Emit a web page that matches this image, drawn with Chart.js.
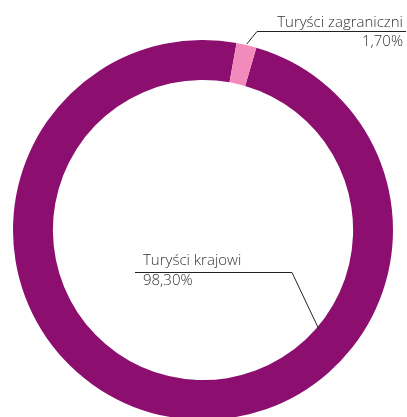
<!DOCTYPE html>
<html>
<head>
<meta charset="utf-8">
<script src="https://cdn.jsdelivr.net/npm/chart.js@4.4.0/dist/chart.umd.min.js"></script>
<style>
html,body{margin:0;padding:0;background:#fff;overflow:hidden;width:407px;height:417px;}
#wrap{position:absolute;left:0;top:0;width:407px;height:460px;}
</style>
</head>
<body>
<div id="wrap"><canvas id="c" width="407" height="460"></canvas></div>
<script>
const categories = ["Turyści krajowi", "Turyści zagraniczni"];
const shares = [98.3, 1.7];
const valueLabels = ["98,30%", "1,70%"];
const colors = ["#8C0F70", "#F28BBB"];

const FONT = '300 15px "Open Sans", sans-serif';
const TEXT_COLOR = "#333333";

const labelLayout = [
  {angle: 130.5, edge: "inner", elbow: [292, 272], lineEnd: [135, 272], textX: 143, align: "left", nameY: 265, valY: 285},
  {angle: null, edge: "outer", elbow: [257, 31], lineEnd: [406, 31], textX: 403, align: "right", nameY: 27, valY: 46}
];

const labelPlugin = {
  id: "leaderLabels",
  afterDraw(chart) {
    const ctx = chart.ctx;
    const meta = chart.getDatasetMeta(0);
    meta.data.forEach((arc, i) => {
      const L = labelLayout[i];
      const p = arc.getProps(["x","y","startAngle","endAngle","innerRadius","outerRadius"], true);
      const a = L.angle === null ? (p.startAngle + p.endAngle) / 2 : (L.angle - 90) * Math.PI / 180;
      const r = L.edge === "outer" ? p.outerRadius + 1 : p.innerRadius + 2;
      const ax = p.x + Math.cos(a) * r, ay = p.y + Math.sin(a) * r;
      ctx.save();
      ctx.strokeStyle = "#222";
      ctx.lineWidth = 1;
      ctx.beginPath();
      ctx.moveTo(ax, ay);
      ctx.lineTo(L.elbow[0], L.elbow[1] + 0.5);
      ctx.lineTo(L.lineEnd[0], L.lineEnd[1] + 0.5);
      ctx.stroke();
      ctx.fillStyle = TEXT_COLOR;
      ctx.font = FONT;
      ctx.textAlign = L.align;
      ctx.textBaseline = "alphabetic";
      ctx.fillText(categories[i], L.textX, L.nameY);
      ctx.fillText(valueLabels[i], L.textX, L.valY);
      ctx.restore();
    });
  }
};

new Chart(document.getElementById("c"), {
  type: "doughnut",
  data: {
    labels: categories,
    datasets: [{
      data: shares,
      backgroundColor: colors,
      borderWidth: 0,
      hoverOffset: 0
    }]
  },
  options: {
    responsive: false,
    animation: false,
    cutout: "79%",
    rotation: 16.3,
    layout: {padding: {left: 13, right: 14, top: 40, bottom: 40}},
    plugins: {legend: {display: false}, tooltip: {enabled: false}}
  },
  plugins: [labelPlugin]
});
</script>
</body>
</html>
